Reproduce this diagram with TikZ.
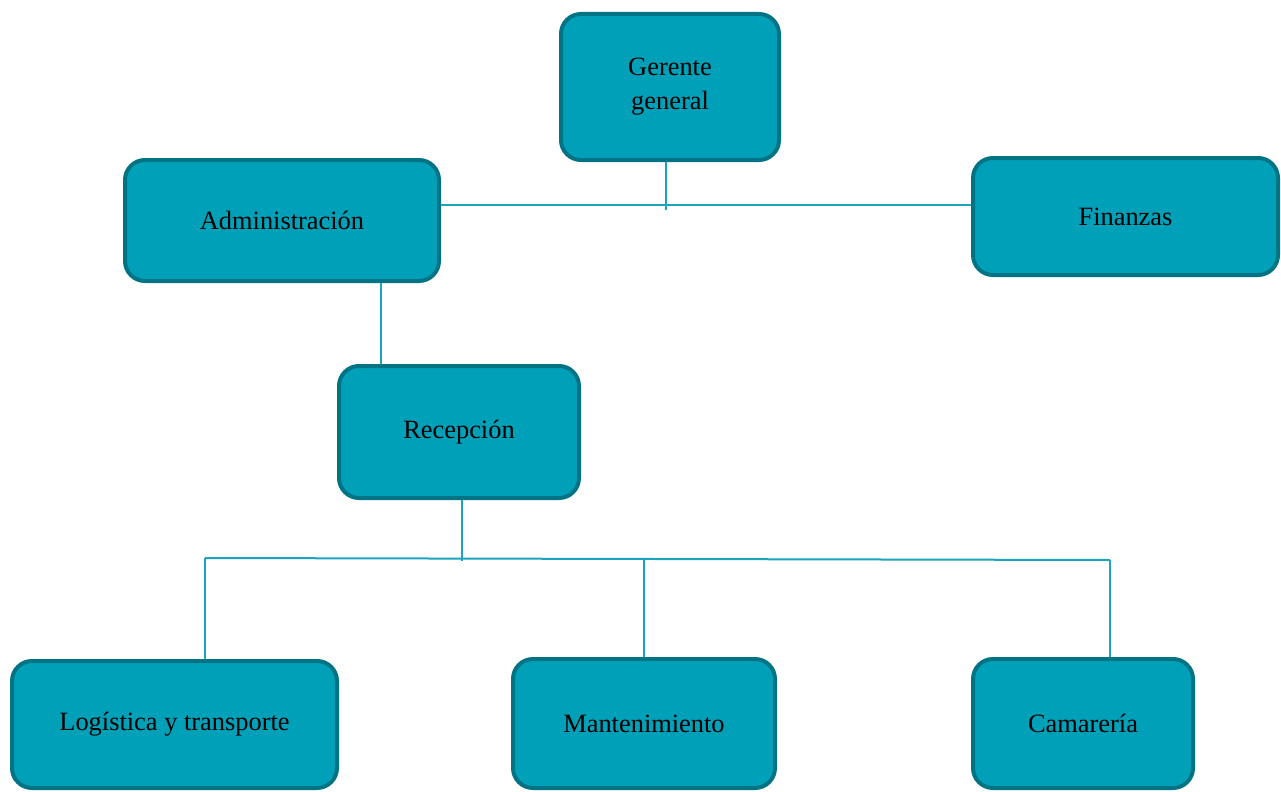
\documentclass[tikz,border=0pt]{standalone}
\usepackage{fontspec}
\setmainfont{Liberation Serif}
\definecolor{boxfill}{HTML}{00A1B8}
\definecolor{boxborder}{HTML}{007385}
\definecolor{linkcol}{HTML}{1AA4BE}
\begin{document}
\begin{tikzpicture}[x=0.75pt,y=-0.75pt,
  orgbox/.style={draw=boxborder,fill=boxfill,line width=3pt,rounded corners=15pt,
    align=center,font=\fontsize{19.8pt}{25.5pt}\selectfont,inner sep=0pt},
  link/.style={draw=linkcol,line width=1.5pt}]
\clip (0,0) rectangle (1281,792);
\fill[white] (0,0) rectangle (1281,792);
\node[orgbox,minimum width=163.5pt,minimum height=109.5pt] (gerente) at (670,87) {Gerente\\general};
\node[orgbox,minimum width=235.5pt,minimum height=90.75pt] (admin) at (282,220.5) {Administración};
\node[orgbox,minimum width=228.75pt,minimum height=87.75pt] (finanzas) at (1125.5,216.5) {Finanzas};
\node[orgbox,minimum width=180pt,minimum height=99pt] (recepcion) at (459,432) {Recepción};
\node[orgbox,minimum width=243.75pt,minimum height=95.25pt] (logistica) at (174.5,724.5) {Logística y transporte};
\node[orgbox,minimum width=196.5pt,minimum height=96.75pt] (mantenimiento) at (644,723.5) {Mantenimiento};
\node[orgbox,minimum width=165pt,minimum height=96.75pt] (camareria) at (1083,723.5) {Camarería};
\coordinate (j1) at (666,210);
\coordinate (h1) at (700,205);
\coordinate (v1) at (381,300);
\coordinate (j2) at (462,561);
\coordinate (bl) at (205,558);
\coordinate (bm) at (644,559.2);
\coordinate (br) at (1110,560);
\draw[link] (j1 |- gerente.south) -- (j1);
\draw[link] (admin.east |- h1) -- (finanzas.west |- h1);
\draw[link] (v1 |- admin.south) -- (v1 |- recepcion.north);
\draw[link] (j2 |- recepcion.south) -- (j2);
\draw[link] (bl) -- (br);
\draw[link] (bl) -- (bl |- logistica.north);
\draw[link] (bm) -- (bm |- mantenimiento.north);
\draw[link] (br) -- (br |- camareria.north);
\end{tikzpicture}
\end{document}
